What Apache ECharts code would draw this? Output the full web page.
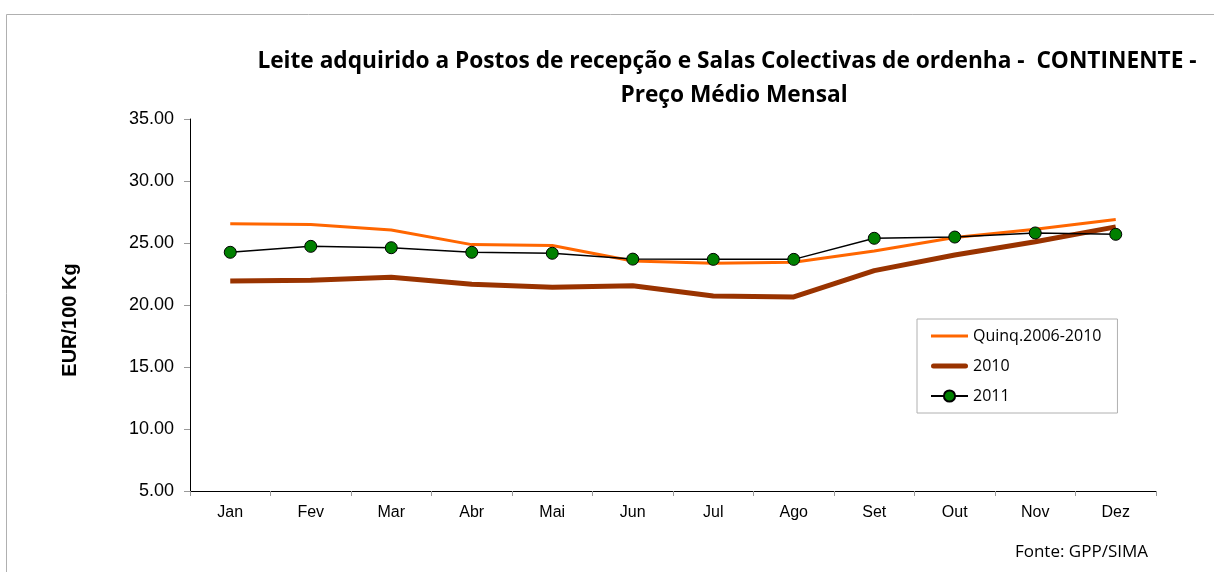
<!DOCTYPE html>
<html>
<head>
<meta charset="utf-8">
<script src="https://cdn.jsdelivr.net/npm/echarts@6/dist/echarts.min.js"></script>
<style>
html,body{margin:0;padding:0;background:#fff;}
#c{width:1214px;height:572px;}
</style>
</head>
<body>
<div id="c"></div>
<script>
const months = ['Jan','Fev','Mar','Abr','Mai','Jun','Jul','Ago','Set','Out','Nov','Dez'];
const quinq = [26.55, 26.5, 26.05, 24.87, 24.8, 23.55, 23.36, 23.44, 24.35, 25.45, 26.1, 26.9];
const y2010 = [21.94, 22.0, 22.23, 21.67, 21.43, 21.56, 20.73, 20.65, 22.77, 24.03, 25.1, 26.3];
const y2011 = [24.25, 24.73, 24.62, 24.25, 24.17, 23.7, 23.68, 23.68, 25.38, 25.48, 25.81, 25.7];
const seriesNames = ['Quinq.2006-2010', '2010', '2011'];
const titleLines = ['Leite adquirido a Postos de recepção e Salas Colectivas de ordenha -  CONTINENTE -', 'Preço Médio Mensal'];
const yAxisName = 'EUR/100 Kg';
const sourceText = 'Fonte: GPP/SIMA';

const chart = echarts.init(document.getElementById('c'), null, {renderer: 'canvas'});
const titleFont = {fontFamily: 'Open Sans', fontWeight: 'bold', fontSize: 22.7, fill: '#000'};
chart.setOption({
  animation: false,
  backgroundColor: '#fff',
  graphic: [
    {type: 'rect', shape: {x: 6.5, y: 14.5, width: 1400, height: 800}, style: {fill: 'none', stroke: '#b0b0b0', lineWidth: 1}, silent: true},
    {type: 'text', x: 727, y: 62, style: Object.assign({text: titleLines[0], textAlign: 'center', textVerticalAlign: 'middle'}, titleFont)},
    {type: 'text', x: 734, y: 96, style: Object.assign({text: titleLines[1], textAlign: 'center', textVerticalAlign: 'middle'}, titleFont)},
    {type: 'text', x: 70, y: 320, rotation: Math.PI / 2, style: {text: yAxisName, textAlign: 'center', textVerticalAlign: 'middle', fontFamily: 'Liberation Sans', fontWeight: 'bold', fontSize: 20, fill: '#000'}},
    {type: 'text', x: 1148, y: 552, style: {text: sourceText, textAlign: 'right', textVerticalAlign: 'middle', fontFamily: 'Open Sans', fontSize: 17, fill: '#000'}}
  ],
  grid: {left: 190, right: 58, top: 119, bottom: 81, containLabel: false},
  legend: {
    orient: 'vertical',
    left: 917, top: 319,
    padding: [9, 16, 9, 13],
    itemWidth: 37, itemHeight: 14, itemGap: 14,
    borderColor: '#b0b0b0', borderWidth: 1,
    textStyle: {fontFamily: 'Open Sans', fontSize: 16, color: '#000'},
    data: [
      {name: seriesNames[0], icon: 'path://M0,0 H37 V3 H0 Z'},
      {name: seriesNames[1], icon: 'path://M2.5,0 H34.5 A2.5,2.5 0 0 1 34.5,5 H2.5 A2.5,2.5 0 0 1 2.5,0 Z'},
      {name: seriesNames[2]}
    ]
  },
  xAxis: {
    type: 'category',
    data: months,
    boundaryGap: true,
    axisLine: {lineStyle: {color: '#000', width: 1}},
    axisTick: {show: true, length: 5, lineStyle: {color: '#999'}},
    axisLabel: {fontFamily: 'Liberation Sans', fontSize: 16, color: '#000', margin: 14},
    splitLine: {show: false}
  },
  yAxis: {
    type: 'value',
    min: 5, max: 35, interval: 5,
    axisLine: {show: true, lineStyle: {color: '#000', width: 1}},
    axisTick: {show: true, length: 6, lineStyle: {color: '#999'}},
    axisLabel: {fontFamily: 'Liberation Sans', fontSize: 18, color: '#000', margin: 16, formatter: v => v.toFixed(2)},
    splitLine: {show: false}
  },
  series: [
    {name: seriesNames[0], type: 'line', data: quinq, symbol: 'none', lineStyle: {color: '#FF6600', width: 3}, itemStyle: {color: '#FF6600'}},
    {name: seriesNames[1], type: 'line', data: y2010, symbol: 'none', lineStyle: {color: '#993300', width: 5}, itemStyle: {color: '#993300'}},
    {name: seriesNames[2], type: 'line', data: y2011, symbol: 'circle', symbolSize: 12, lineStyle: {color: '#000', width: 1.5}, itemStyle: {color: '#008000', borderColor: '#000', borderWidth: 1}}
  ]
});
</script>
</body>
</html>
